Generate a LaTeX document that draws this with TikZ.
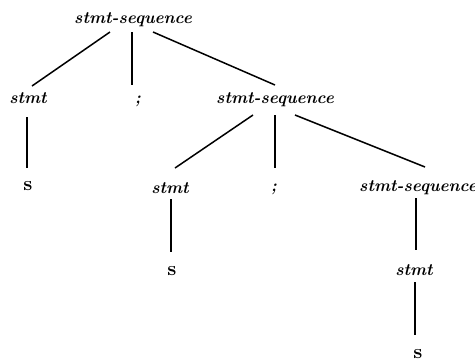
\documentclass[tikz,border=0pt]{standalone}
\begin{document}
\begin{tikzpicture}[x=0.5pt,y=-0.5pt,
  lab/.style={font=\fontsize{8.5}{10}\selectfont\bfseries\itshape, inner sep=0pt, anchor=base},
  leaf/.style={font=\fontsize{10}{11}\selectfont\bfseries, inner sep=0pt, anchor=base},
  edge/.style={line width=0.75pt}]
\useasboundingbox (0,0) rectangle (475,360);
\node[lab] (r) at (133,23) {stmt-sequence};
\node[lab] (a) at (28,103) {stmt};
\node[lab] (b) at (138,103) {;};
\node[lab] (c) at (275,103) {stmt-sequence};
\node[leaf] (as) at (28,190) {s};
\node[lab] (d) at (170,193) {stmt};
\node[lab] (e) at (274,191) {;};
\node[lab] (f) at (418,191) {stmt-sequence};
\node[leaf] (ds) at (172,275) {s};
\node[lab] (g) at (414,275) {stmt};
\node[leaf] (gs) at (418,358) {s};
\draw[edge] ([shift={(-23,9)}]r.base) -- ([shift={(4,-17)}]a.base);
\draw[edge] ([shift={(-1,9)}]r.base) -- ([shift={(-6,-18)}]b.base);
\draw[edge] ([shift={(20,9)}]r.base) -- ([shift={(0,-18)}]c.base);
\draw[edge] ([shift={(-1,14)}]a.base) -- ([shift={(-1,-22)}]as.base);
\draw[edge] ([shift={(-22,12)}]c.base) -- ([shift={(5,-25)}]d.base);
\draw[edge] ([shift={(0,12)}]c.base) -- ([shift={(1,-23)}]e.base);
\draw[edge] ([shift={(20,12)}]c.base) -- ([shift={(7,-24)}]f.base);
\draw[edge] ([shift={(1,6)}]d.base) -- ([shift={(-1,-23)}]ds.base);
\draw[edge] ([shift={(-2,7)}]f.base) -- ([shift={(2,-25)}]g.base);
\draw[edge] ([shift={(1,7)}]g.base) -- ([shift={(-3,-23)}]gs.base);
\end{tikzpicture}
\end{document}
